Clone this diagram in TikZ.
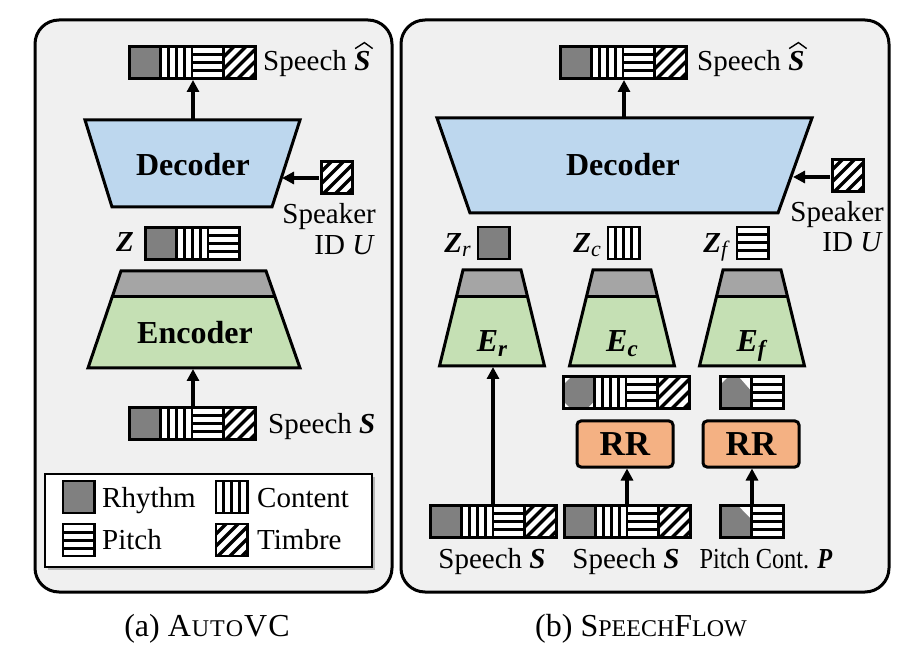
\documentclass[tikz,border=0pt]{standalone}
\usepackage{fontspec}
\setmainfont{Liberation Serif}
\usetikzlibrary{arrows.meta,shadows}
\definecolor{bgc}{HTML}{F0F0F0}
\definecolor{rhy}{HTML}{808080}
\definecolor{decb}{HTML}{BDD7EE}
\definecolor{encg}{HTML}{C5E0B4}
\definecolor{bandg}{HTML}{A5A5A5}
\definecolor{rrc}{HTML}{F4B183}
\def\cw{31.5}
\def\ch{32}
% cells: (x,y) = top-left corner, y grows downwards
\newcommand\cRhy[2]{\fill[rhy] ({#1},{#2}) rectangle ++(\cw,\ch);
  \draw[cellb] ({#1},{#2}) rectangle ++(\cw,\ch);}
\newcommand\cCon[2]{\fill[white] ({#1},{#2}) rectangle ++(\cw,\ch);
  \foreach \i in {1,2,3}{\draw[line width=3pt] ({#1+\i*\cw/4},{#2}) -- ++(0,\ch);}
  \draw[cellb] ({#1},{#2}) rectangle ++(\cw,\ch);}
\newcommand\cPit[2]{\fill[white] ({#1},{#2}) rectangle ++(\cw,\ch);
  \foreach \i in {1,2,3}{\draw[line width=3pt] ({#1},{#2+\i*\ch/4}) -- ++(\cw,0);}
  \draw[cellb] ({#1},{#2}) rectangle ++(\cw,\ch);}
\newcommand\cTim[2]{\begin{scope}
  \clip ({#1},{#2}) rectangle ++(\cw,\ch);
  \fill[white] ({#1},{#2}) rectangle ++(\cw,\ch);
  \foreach \k in {-36,-24,-12,0,12,24}{\draw[line width=3.3pt] ({#1+\k},{#2+\ch+2}) -- ++(\ch+4,-\ch-4);}
  \end{scope}
  \draw[cellb] ({#1},{#2}) rectangle ++(\cw,\ch);}
% rhythm after random resampling (content branch)
\newcommand\cRhyO[2]{\fill[white] ({#1},{#2}) rectangle ++(\cw,\ch);
  \fill[rhy] ({#1},{#2+8}) -- ({#1+8},{#2}) -- ({#1+\cw},{#2}) -- ({#1+\cw},{#2+\ch-8})
     -- ({#1+\cw-8},{#2+\ch}) -- ({#1+8},{#2+\ch}) -- ({#1},{#2+\ch-8}) -- cycle;
  \draw[cellb] ({#1},{#2}) rectangle ++(\cw,\ch);}
% pitch contour rhythm (input)
\newcommand\cRhyP[2]{\fill[white] ({#1},{#2}) rectangle ++(\cw,\ch);
  \fill[rhy] ({#1},{#2}) -- ({#1+0.55*\cw},{#2}) -- ({#1+\cw},{#2+0.45*\ch}) -- ({#1+\cw},{#2+\ch}) -- ({#1},{#2+\ch}) -- cycle;
  \draw[cellb] ({#1},{#2}) rectangle ++(\cw,\ch);}
% pitch contour rhythm after RR
\newcommand\cRhyQ[2]{\fill[white] ({#1},{#2}) rectangle ++(\cw,\ch);
  \fill[rhy] ({#1},{#2+8}) -- ({#1+8},{#2}) -- ({#1+0.6*\cw},{#2}) -- ({#1+\cw},{#2+0.45*\ch}) -- ({#1+\cw},{#2+\ch}) -- ({#1},{#2+\ch}) -- cycle;
  \draw[cellb] ({#1},{#2}) rectangle ++(\cw,\ch);}
\newcommand\sFull[2]{\cRhy{#1}{#2}\cCon{#1+\cw}{#2}\cPit{#1+2*\cw}{#2}\cTim{#1+3*\cw}{#2}
  \draw[line width=3pt] ({#1},{#2}) rectangle ++(4*\cw,\ch);}
\newcommand\sFullO[2]{\cRhyO{#1}{#2}\cCon{#1+\cw}{#2}\cPit{#1+2*\cw}{#2}\cTim{#1+3*\cw}{#2}
  \draw[line width=3pt] ({#1},{#2}) rectangle ++(4*\cw,\ch);}
\newcommand\bS{\textbf{\textit{S}}}
\newcommand\smc[1]{{\fontsize{24}{27}\selectfont #1}}
\begin{document}
\begin{tikzpicture}[x=1pt,y=-1pt,
  cellb/.style={line width=2.5pt},
  arr/.style={line width=3.5pt,-{Triangle[length=12pt,width=12pt]}},
  lab/.style={font=\fontsize{29}{34}\selectfont,inner sep=0pt},
  blab/.style={font=\fontsize{32}{36}\selectfont\bfseries,inner sep=0pt},
  panel/.style={line width=3pt,fill=bgc,rounded corners=24pt},
  trap/.style={line width=3pt,line join=miter},
  hat/.style={line width=1.4pt,line join=miter},
  rrbox/.style={draw,line width=3pt,fill=rrc,rounded corners=4pt,minimum width=96pt,minimum height=46pt,inner sep=0pt,font=\fontsize{35}{38}\selectfont\bfseries},
  capt/.style={font=\fontsize{32}{36}\selectfont,inner sep=0pt}]
\useasboundingbox (0,0) rectangle (911,660);
\fill[white] (0,0) rectangle (911,660);
% panels
\draw[panel] (35,20) rectangle (392,592);
\draw[panel] (401,20) rectangle (889,592);

%================ (a) AutoVC
\sFull{129}{47}
\coordinate (aOutB) at (193,80);
\node[lab,anchor=base west] (aOutL) at (263,71) {Speech};
\node[lab,anchor=base west] (aOutS) at ([xshift=7pt]aOutL.base east) {\bS};
\draw[hat] ([xshift=1pt,yshift=3pt]aOutS.north west) -- ([xshift=2pt,yshift=9pt]aOutS.north) -- ([xshift=2pt,yshift=3pt]aOutS.north east);
% decoder
\fill[decb] (85,120) -- (300,120) -- (272,207) -- (112,207) -- cycle;
\draw[trap] (85,120) -- (300,120) -- (272,207) -- (112,207) -- cycle;
\coordinate (aDecT) at (193,120);
\node[blab,anchor=base] (aDec) at (193,176) {Decoder};
\draw[arr] (aDecT) -- (aOutB);
% speaker id
\cTim{321}{162}
\draw[line width=3pt] (321,162) rectangle ++(\cw,\ch);
\coordinate (aSpk) at (319,178);
\coordinate (aDecR) at (282,178);
\draw[arr] (aSpk) -- (aDecR);
\node[lab,anchor=base east] (aSpkL) at (376,224) {Speaker};
\node[lab,anchor=base east] (aIdL) at (375,255) {ID \textit{U}};
% Z
\node[lab,anchor=base east] (aZ) at (134,252) {\textbf{\textit{Z}}};
\cRhy{145}{228}\cCon{145+\cw}{228}\cPit{145+2*\cw}{228}
\draw[line width=3pt] (145,228) rectangle ++(3*\cw,\ch);
% encoder
\fill[bandg] (121,271) -- (266,271) -- (275,297) -- (112,297) -- cycle;
\fill[encg] (112,297) -- (275,297) -- (300,368) -- (88,368) -- cycle;
\draw[trap] (121,271) -- (266,271) -- (300,368) -- (88,368) -- cycle;
\draw[line width=3pt] (112,297) -- (275,297);
\node[blab,anchor=base] (aEnc) at (195,344) {Encoder};
\coordinate (aEncB) at (193,369);
% input
\sFull{129}{408}
\coordinate (aInT) at (193,407);
\draw[arr] (aInT) -- (aEncB);
\node[lab,anchor=base west] (aInL) at (268,433) {Speech \bS};
% legend
\node[draw,line width=2pt,fill=white,drop shadow={shadow xshift=3pt,shadow yshift=-3pt,opacity=0.5},
  minimum width=327pt,minimum height=93pt,inner sep=0pt] (leg) at (208.5,520.5) {};
\cRhy{63}{481}
\node[lab,anchor=base west] (lR) at (102,507) {Rhythm};
\cCon{216}{481}
\node[lab,anchor=base west] (lC) at (257,507) {Content};
\cPit{63}{524}
\node[lab,anchor=base west] (lP) at (102,549) {Pitch};
\cTim{216}{524}
\node[lab,anchor=base west] (lT) at (257,549) {Timbre};
% caption
\node[capt,anchor=base] (capA) at (207,636) {(a) A\kern1pt\smc{U\kern1pt T\kern1pt O}\kern1pt V\kern1pt C};

%================ (b) SpeechFlow
\sFull{560}{47}
\coordinate (bOutB) at (624,80);
\node[lab,anchor=base west] (bOutL) at (697,71) {Speech};
\node[lab,anchor=base west] (bOutS) at ([xshift=7pt]bOutL.base east) {\bS};
\draw[hat] ([xshift=1pt,yshift=3pt]bOutS.north west) -- ([xshift=2pt,yshift=9pt]bOutS.north) -- ([xshift=2pt,yshift=3pt]bOutS.north east);
\fill[decb] (437,118) -- (812,118) -- (778,213) -- (470,213) -- cycle;
\draw[trap] (437,118) -- (812,118) -- (778,213) -- (470,213) -- cycle;
\coordinate (bDecT) at (624,118);
\node[blab,anchor=base] (bDec) at (623,176) {Decoder};
\draw[arr] (bDecT) -- (bOutB);
% speaker id
\cTim{832}{160}
\draw[line width=3pt] (832,160) rectangle ++(\cw,\ch);
\coordinate (bSpk) at (830,177);
\coordinate (bDecR) at (793,177);
\draw[arr] (bSpk) -- (bDecR);
\node[lab,anchor=base east] (bSpkL) at (884,222) {Speaker};
\node[lab,anchor=base east] (bIdL) at (883,252) {ID \textit{U}};
% codes
\node[lab,anchor=base east] (bZr) at (471,253) {\textbf{\textit{Z}}\raisebox{-0.3ex}{\fontsize{22}{24}\selectfont\textit{r}}};
\cRhy{478}{227}
\node[lab,anchor=base east] (bZc) at (601,253) {\textbf{\textit{Z}}\raisebox{-0.3ex}{\fontsize{22}{24}\selectfont\textit{c}}};
\cCon{608}{227}
\node[lab,anchor=base east] (bZf) at (730,253) {\textbf{\textit{Z}}\raisebox{-0.3ex}{\fontsize{22}{24}\selectfont\textit{f}}};
\cPit{737}{227}
% encoders
\foreach \cx/\nm/\sub in {492/Er/r,622/Ec/c,752/Ef/f}{
  \fill[bandg] (\cx-29,270) -- (\cx+29,270) -- (\cx+35.5,297) -- (\cx-35.5,297) -- cycle;
  \fill[encg] (\cx-35.5,297) -- (\cx+35.5,297) -- (\cx+52.5,366) -- (\cx-52.5,366) -- cycle;
  \draw[trap] (\cx-29,270) -- (\cx+29,270) -- (\cx+52.5,366) -- (\cx-52.5,366) -- cycle;
  \draw[line width=3pt] (\cx-35.5,297) -- (\cx+35.5,297);
  \node[blab,anchor=base] (\nm) at (\cx,352) {\textbf{\textit{E}}\raisebox{-0.3ex}{\fontsize{23}{26}\selectfont\textbf{\textit{\sub}}}};
  \coordinate (\nm B) at (\cx,367);
}
% processed strips
\sFullO{563}{377}
\cRhyQ{720}{377}\cPit{720+\cw}{377}
\draw[line width=3pt] (720,377) rectangle ++(2*\cw,\ch);
% RR boxes
\node[rrbox] (rr1) at (625,444) {RR};
\node[rrbox] (rr2) at (751,444) {RR};
% inputs
\sFull{430}{505}
\sFull{564}{505}
\cRhyP{720}{505}\cPit{720+\cw}{505}
\draw[line width=3pt] (720,505) rectangle ++(2*\cw,\ch);
\coordinate (in1) at (493,504);
\coordinate (in2) at (627,504);
\coordinate (in3) at (752,504);
\draw[arr] (in1) -- (ErB -| in1);
\draw[arr] (in2) -- (rr1.south -| in2);
\draw[arr] (in3) -- (rr2.south -| in3);
\node[lab,anchor=base] (bIn1) at (492,568) {Speech \bS};
\node[lab,anchor=base] (bIn2) at (626,568) {Speech \bS};
\node[lab,anchor=base] (bIn3) at (766,568) {\scalebox{0.84}[1]{Pitch Cont. \textbf{\textit{P}}}};
% caption
\node[capt,anchor=base] (capB) at (641,636) {(b) S\smc{PEECH}F\smc{LOW}};
\end{tikzpicture}
\end{document}
